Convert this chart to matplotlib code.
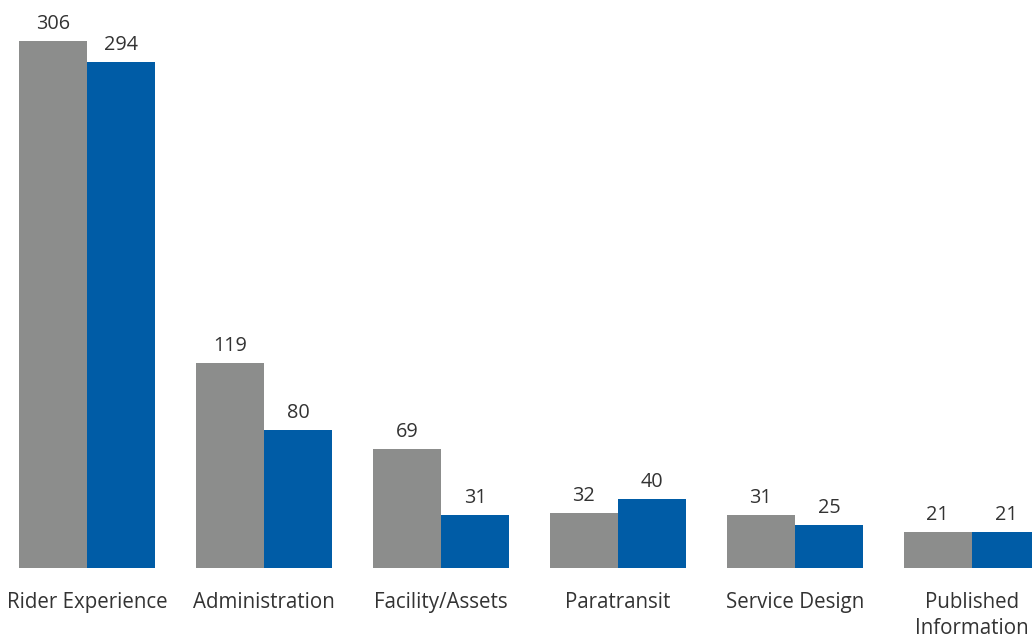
"""
Grouped bar chart: two series per category, values on top.
"""
import numpy as np
import matplotlib.pyplot as plt

plt.rcParams['font.family'] = ['Open Sans', 'DejaVu Sans']

categories = ['Rider Experience', 'Administration', 'Facility/Assets',
              'Paratransit', 'Service Design', 'Published\nInformation']
gray_vals = [306, 119, 69, 32, 31, 21]
blue_vals = [294, 80, 31, 40, 25, 21]

gray = '#8c8d8c'
blue = '#005ca6'
txt = '#333333'

fig = plt.figure(figsize=(10.32, 6.36), dpi=100)
ax = fig.add_axes([0, 68 / 636, 1, 568 / 636])

x = np.arange(len(categories))
w = 0.387
b1 = ax.bar(x - w / 2, gray_vals, w, color=gray)
b2 = ax.bar(x + w / 2, blue_vals, w, color=blue)

# values above bars
for bars in (b1, b2):
    for r in bars:
        ax.annotate(str(int(r.get_height())),
                    (r.get_x() + r.get_width() / 2, r.get_height()),
                    xytext=(0, 5), textcoords='offset points',
                    ha='center', va='bottom', fontsize=14.3, color=txt)

ax.set_xlim(-87 / 177, (1032 - 87) / 177)
ax.set_ylim(0, 568 / 1.722)
ax.set_xticks(x)
ax.set_xticklabels(categories, fontsize=14.8, color=txt, linespacing=1.35)
ax.tick_params(axis='x', length=0, pad=17)
ax.set_yticks([])
for s in ax.spines.values():
    s.set_visible(False)

fig.savefig('out.png', dpi=100)
